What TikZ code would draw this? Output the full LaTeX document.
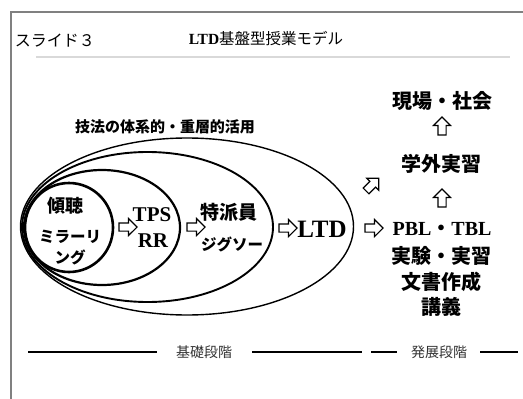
\documentclass[tikz,border=0pt]{standalone}
\usepackage{fontspec}
\setmainfont{Liberation Serif}
\newfontfamily\jp{Noto Sans CJK JP}
\usetikzlibrary{shapes.arrows}
\begin{document}
\begin{tikzpicture}[x=1pt,y=-1pt,
  every node/.style={inner sep=0pt, outer sep=0pt},
  framel/.style={draw=black!50, line width=2pt},
  harrow/.style={single arrow, draw=black, fill=white, line width=1.1pt,
    minimum height=18pt, single arrow head extend=4.5pt, inner sep=0pt},
  big/.style={font=\jp\bfseries\fontsize{20}{24}\selectfont},
  mid/.style={font=\jp\bfseries\fontsize{15}{18}\selectfont},
  small/.style={font=\jp\bfseries\fontsize{15.5}{18}\selectfont},
  lat/.style={font=\rmfamily\bfseries\fontsize{21}{24}\selectfont},
  stage/.style={font=\jp\fontsize{14}{16}\selectfont, text=black!80},
  sep/.style={draw=black, line width=1.3pt}
]
\useasboundingbox (0,0) rectangle (523,399);
\fill[white] (0,0) rectangle (523,399);
% frame
\draw[framel] (11,399) -- (11,12) -- (523,12);
\draw[black!15, line width=1.2pt] (36,57) -- (510,57);
% header
\node[font=\jp\fontsize{16}{18}\selectfont] (slide) at (55,41) {スライド３};
\node[font=\jp\fontsize{15.5}{18}\selectfont] (title) at (266,39) {\textrm{\bfseries LTD}基盤型授業モデル};
\node[mid] (hoho) at (165,127) {技法の体系的・重層的活用};
% ellipses
\draw[line width=1.4pt] (187,226.5) ellipse [x radius=166.5, y radius=88.5];
\draw[line width=1.9pt] (147.5,227) ellipse [x radius=125.5, y radius=75];
\draw[line width=2.2pt] (102,227.5) ellipse [x radius=78, y radius=57.5];
\draw[line width=2.6pt] (69,227.5) ellipse [x radius=44, y radius=44.5];
% inner texts
\node[font=\jp\bfseries\fontsize{18}{20}\selectfont] (keicho) at (66,206) {傾聴};
\node[small] (mirror) at (70,237) {ミラーリ};
\node[small] (ngu) at (70,257) {ング};
\node[harrow] (a1) at (126,227) {\rule{0pt}{7pt}};
\node[lat] (tps) at (152,215) {TPS};
\node[lat] (rr) at (153,241) {RR};
\node[harrow] (a2) at (194,227) {\rule{0pt}{7pt}};
\node[font=\jp\bfseries\fontsize{19}{22}\selectfont] (tokuha) at (229,212) {特派員};
\node[small] (jigsaw) at (232,244) {ジグソー};
\node[harrow] (a3) at (286,228) {\rule{0pt}{7pt}};
\node[font=\rmfamily\bfseries\fontsize{25}{28}\selectfont] (ltd) at (322,229) {LTD};
% right column
\node[harrow] (a4) at (372,228) {\rule{0pt}{7pt}};
\node[harrow, rotate=45] (a5) at (371,186) {\rule{0pt}{7pt}};
\node[big] (genba) at (442,101) {現場・社会};
\node[harrow, rotate=90] (a6) at (442,128) {\rule{0pt}{7pt}};
\node[big] (gakugai) at (441,164) {学外実習};
\node[harrow, rotate=90] (a7) at (442,200) {\rule{0pt}{7pt}};
\node[big] (pbl) at (442,229) {\textrm{PBL}・\textrm{TBL}};
\node[big] (jikken) at (441,256) {実験・実習};
\node[big] (bunsho) at (441,282) {文書作成};
\node[big] (kougi) at (441,307) {講義};
% stages
\node[stage] (kiso) at (204,352) {基礎段階};
\node[stage] (hatten) at (439,352) {発展段階};
\coordinate (s1a) at (28,352); \coordinate (s1b) at (157,352);
\coordinate (s2a) at (252,352); \coordinate (s2b) at (362,352);
\coordinate (s3a) at (371,352); \coordinate (s3b) at (397,352);
\coordinate (s4a) at (480,352); \coordinate (s4b) at (518,352);
\draw[sep] (s1a) -- (s1b);
\draw[sep] (s2a) -- (s2b);
\draw[sep] (s3a) -- (s3b);
\draw[sep] (s4a) -- (s4b);
\end{tikzpicture}
\end{document}
